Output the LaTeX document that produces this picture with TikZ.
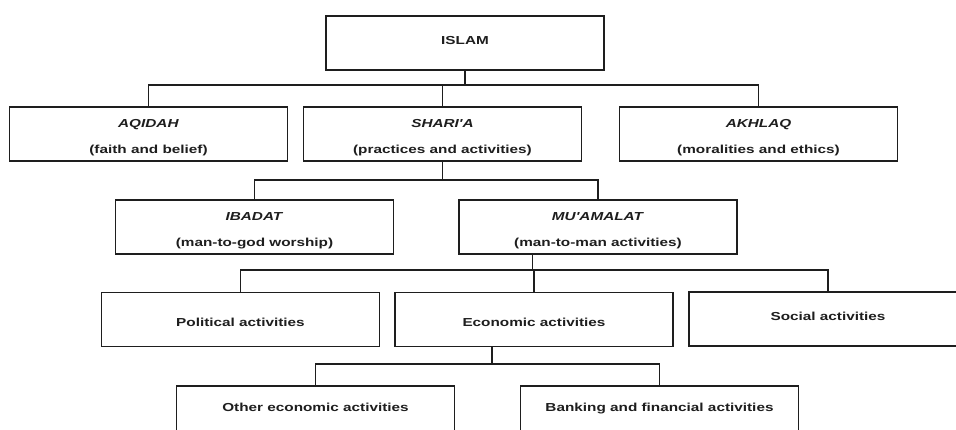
\documentclass[tikz,border=0pt]{standalone}
\usepackage{fontspec}
\newfontfamily\boxfont{Liberation Sans}[FakeStretch=1.32]
\usetikzlibrary{calc}
\definecolor{ink}{HTML}{1E1E1E}
% line struts that set where the text sits inside its box
\newcommand\lnA{\rule[-2pt]{0pt}{18pt}}
\newcommand\lnB{\rule[-5pt]{0pt}{9pt}}
\begin{document}
\begin{tikzpicture}[x=1pt,y=-1pt,
  box/.style={draw=ink, line width=1.5pt, minimum width=278pt, minimum height=54pt,
    inner sep=0pt, align=center, text=ink,
    font=\boxfont\bfseries\fontsize{11.6}{26}\selectfont},
  link/.style={draw=ink, line width=1.5pt}]
\clip (0,0) rectangle (956,430);
\fill[white] (0,0) rectangle (956,430);

% top
\node[box] (islam) at (465,43) {\lnB ISLAM};

% second level
\node[box] (aqidah)  at (148.5,134) {\lnA\textit{AQIDAH}\\\lnA(faith and belief)};
\node[box] (shariah) at (442.5,134) {\lnA\textit{SHARI'A}\\\lnA(practices and activities)};
\node[box] (akhlaq)  at (758.5,134) {\lnA\textit{AKHLAQ}\\\lnA(moralities and ethics)};

% third level
\node[box] (ibadat)   at (254.5,227) {\lnA\textit{IBADAT}\\\lnA(man-to-god worship)};
\node[box] (muamalat) at (598,227)   {\lnA\textit{MU'AMALAT}\\\lnA(man-to-man activities)};

% fourth level
\node[box] (political) at (240.5,319.5) {\lnA Political activities};
\node[box] (economic)  at (534,319.5)   {\lnA Economic activities};
\node[box] (social)    at (828,319)     {\lnB Social activities};

% fifth level (runs past the lower edge)
\node[box, minimum height=48pt] (other)   at (315.5,410) {\lnB Other economic activities};
\node[box, minimum height=48pt] (banking) at (659.5,410) {\lnB Banking and financial activities};

% ISLAM -> three branches
\coordinate (bus1) at (0,85);
\draw[link] (islam.south) -- (islam.south |- bus1);
\draw[link] (aqidah.north) -- (aqidah.north |- bus1) -- (akhlaq.north |- bus1) -- (akhlaq.north);
\draw[link] (shariah.north) -- (shariah.north |- bus1);

% SHARI'A -> IBADAT, MU'AMALAT
\coordinate (bus2) at (0,180);
\draw[link] (shariah.south) -- (shariah.south |- bus2);
\draw[link] (ibadat.north) -- (ibadat.north |- bus2) -- (muamalat.north |- bus2) -- (muamalat.north);

% MU'AMALAT -> activities
\coordinate (bus3) at (0,270);
\coordinate (mstem) at ($(muamalat.south west)!0.266!(muamalat.south east)$);
\draw[link] (mstem) -- (mstem |- bus3);
\draw[link] (political.north) -- (political.north |- bus3) -- (social.north |- bus3) -- (social.north);
\draw[link] (economic.north) -- (economic.north |- bus3);

% Economic -> two kinds
\coordinate (bus4) at (0,364);
\coordinate (estem) at ($(economic.south west)!0.35!(economic.south east)$);
\draw[link] (estem) -- (estem |- bus4);
\draw[link] (other.north) -- (other.north |- bus4) -- (banking.north |- bus4) -- (banking.north);
\end{tikzpicture}
\end{document}
